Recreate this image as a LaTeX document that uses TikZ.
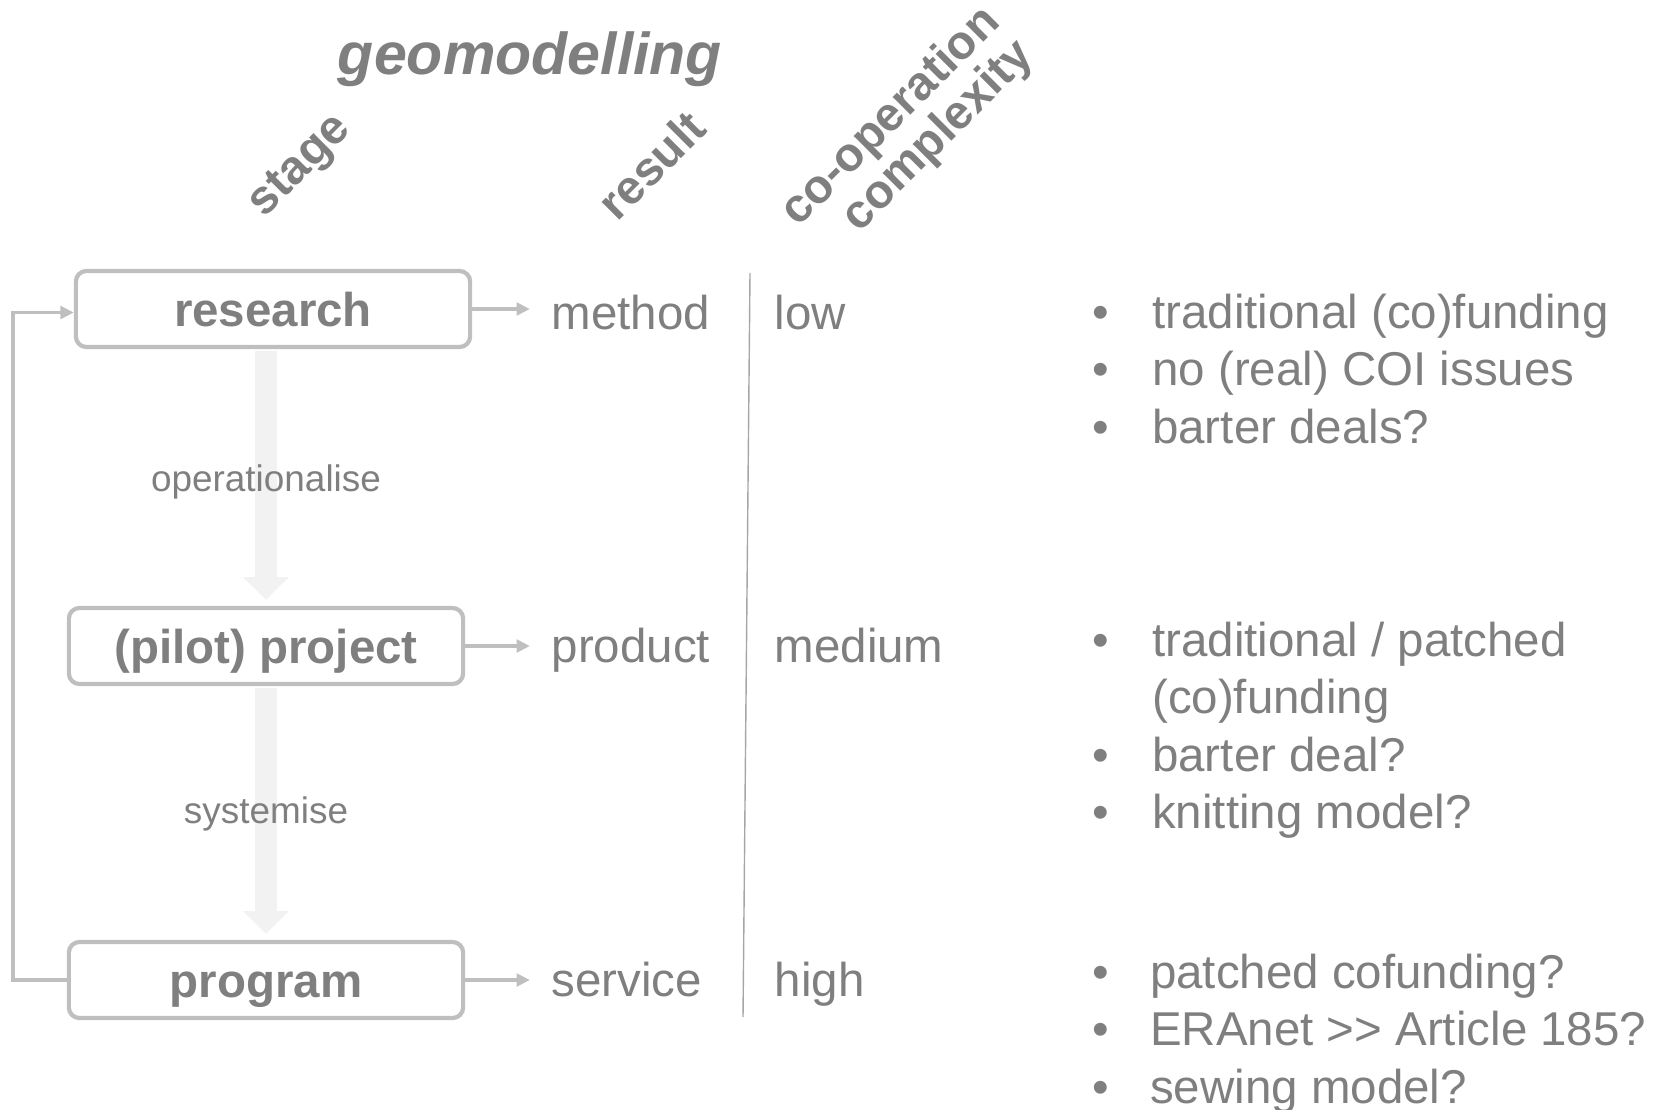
\documentclass[tikz,border=0pt]{standalone}
\usepackage{fontspec}
\setmainfont{Liberation Sans}
\usetikzlibrary{arrows.meta,positioning}
\definecolor{txtgray}{HTML}{7F7F7F}
\definecolor{boxgray}{HTML}{BFBFBF}
\definecolor{flowgray}{HTML}{F2F2F2}
\definecolor{linegray}{HTML}{A6A6A6}

\begin{document}
\begin{tikzpicture}[x=0.01cm, y=-0.01cm,
   stagebox/.style={draw=boxgray, line width=1.2pt, rounded corners=3pt,
      minimum width=3.94cm, minimum height=0.76cm, inner sep=0pt,
      font=\fontsize{13.5}{16}\selectfont\bfseries, text=txtgray,
      text height=12pt, text depth=2pt},
   resulttext/.style={font=\fontsize{13.5}{16}\selectfont, text=txtgray,
      text height=12pt, text depth=2pt, inner sep=0pt, anchor=west},
   steplabel/.style={font=\fontsize{10.5}{12}\selectfont, text=txtgray,
      text height=9.5pt, text depth=2pt, inner sep=0pt},
   slanted/.style={font=\fontsize{13.5}{13.4}\selectfont\bfseries, text=txtgray,
      rotate=45, inner sep=0pt},
   bullets/.style={font=\fontsize{13.5}{16.36}\selectfont, text=txtgray,
      inner sep=0pt, anchor=base west},
   flow/.style={draw=flowgray, line width=6.4pt, shorten <=0.6pt, shorten >=1.7pt,
      -{Triangle[width=12.7pt,length=6.5pt]}},
   feed/.style={draw=boxgray, line width=1.1pt, -{Triangle[width=3.6pt,length=3.8pt]}}]

   \useasboundingbox (0,0) rectangle (1661,1109);

   \node[font=\fontsize{16.8}{20}\selectfont\bfseries\itshape, text=txtgray,
      text height=0.72em, text depth=0.21em, inner sep=0pt] (title) at (530,66) {geomodelling};
   \node[slanted] (stage) at (301,167) {stage};
   \node[slanted] (result) at (651,165) {result};
   \node[slanted, align=right] (coop) at (908,134) {co-operation\\complexity};

   \node[stagebox] (research) at (273,309) {research};
   \node[stagebox] (pilot) at (266,646) {(pilot) project};
   \node[stagebox] (program) at (266,980) {program};

   \draw[flow] (pilot.north |- research.south) -- (pilot.north);
   \draw[flow] (program.north |- pilot.south) -- (program.north);
   \node[steplabel] (oper) at (266,478) {operationalise};
   \node[steplabel] (syst) at (266,810) {systemise};

   \draw[feed] (program.west) -- ++(-54,0) |- ([yshift=-1pt]research.west);

   \node[resulttext] (method) at (551,312) {method};
   \node[resulttext] (product) at (551,645) {product};
   \node[resulttext] (service) at (551,979) {service};
   \draw[feed, shorten >=6pt] (research.east) -- (research.east -| method.west);
   \draw[feed, shorten >=6pt] (pilot.east) -- (pilot.east -| product.west);
   \draw[feed, shorten >=6pt] (program.east) -- (program.east -| service.west);

   \draw[linegray, line width=0.4pt] (750,273) -- (743,1017);

   \node[resulttext] (low) at (774,312) {low};
   \node[resulttext] (medium) at (774,645) {medium};
   \node[resulttext] (high) at (774,979) {high};

   \node[bullets] (lowpoints) at (1092,328) {\begin{tabular}[t]{@{}l@{\hspace{12.2pt}}l@{}}
      \textbullet & traditional (co)funding\\
      \textbullet & no (real) COI issues\\
      \textbullet & barter deals?
   \end{tabular}};
   \node[bullets] (mediumpoints) at (1092,656) {\begin{tabular}[t]{@{}l@{\hspace{12.2pt}}l@{}}
      \textbullet & traditional / patched\\
      & (co)funding\\
      \textbullet & barter deal?\\
      \textbullet & knitting model?
   \end{tabular}};
   \node[bullets] (highpoints) at (1092,988) {\begin{tabular}[t]{@{}l@{\hspace{11.6pt}}l@{}}
      \textbullet & patched cofunding?\\
      \textbullet & ERAnet >{}> Article 185?\\
      \textbullet & sewing model?
   \end{tabular}};
\end{tikzpicture}
\end{document}
